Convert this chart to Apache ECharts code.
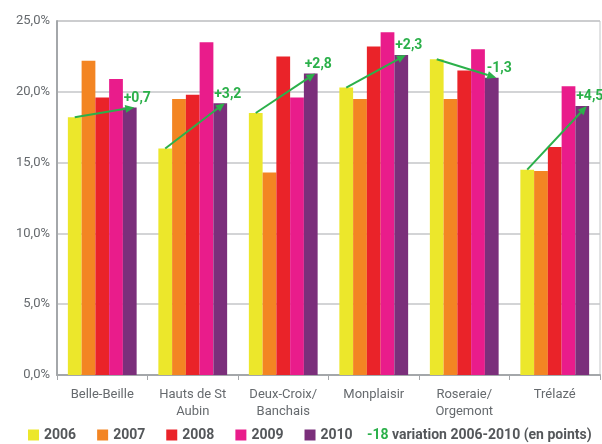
<!DOCTYPE html>
<html>
<head>
<meta charset="utf-8">
<script src="https://cdn.jsdelivr.net/npm/echarts@6/dist/echarts.min.js"></script>
<style>
  html, body { margin: 0; padding: 0; background: #fff; }
  #chart { width: 602px; height: 444px; }
</style>
</head>
<body>
<div id="chart"></div>
<script>
// Quartiers
const categories = ['Belle-Beille', 'Hauts de St\nAubin', 'Deux-Croix/\nBanchais', 'Monplaisir', 'Roseraie/\nOrgemont', 'Trélazé'];
const years = ['2006', '2007', '2008', '2009', '2010'];

// Taux (%) par année
const v2006 = [18.2, 16.0, 18.5, 20.3, 22.3, 14.5];
const v2007 = [22.2, 19.5, 14.3, 19.5, 19.5, 14.4];
const v2008 = [19.6, 19.8, 22.5, 23.2, 21.5, 16.1];
const v2009 = [20.9, 23.5, 19.6, 24.2, 23.0, 20.4];
const v2010 = [18.9, 19.2, 21.3, 22.6, 21.0, 19.0];

// Variation 2006-2010 (en points)
const variation = [0.7, 3.2, 2.8, 2.3, -1.3, 4.5];

const yTicks = [0, 5, 10, 15, 20, 25];

const colors = ['#ece72b', '#f38523', '#ea2329', '#e91c8b', '#7b2f7b'];
const green = '#2bb04a';
const textGray = '#666a6e';
const FONT = 'Roboto';
const CAT_GAP = 0.24;

const seriesValues = [v2006, v2007, v2008, v2009, v2010];

function fmtSigned(d) {
  return (d > 0 ? '+' : d < 0 ? '-' : '') + Math.abs(d).toFixed(1).replace('.', ',');
}

const barSeries = years.map((y, i) => ({
  name: y,
  type: 'bar',
  data: seriesValues[i],
  barGap: '0%',
  barCategoryGap: (CAT_GAP * 100) + '%',
  itemStyle: { color: colors[i] },
  emphasis: { disabled: true },
  z: 2
}));

// Flèche 2006 -> 2010 avec la variation
const arrowData = categories.map((c, i) => [i, v2006[i], v2010[i], variation[i]]);

const arrowSeries = {
  name: 'variation',
  type: 'custom',
  data: arrowData,
  z: 5,
  silent: true,
  renderItem: function (params, api) {
    const idx = api.value(0);
    const band = api.size([1, 0])[0];
    const groupW = band * (1 - CAT_GAP);
    const barW = groupW / years.length;
    const pStart = api.coord([idx, api.value(1)]);
    const pEnd = api.coord([idx, api.value(2)]);
    const x0 = pStart[0] - groupW / 2 + barW / 2;
    const y0 = pStart[1];
    const x1 = pEnd[0] + groupW / 2 - barW / 2 + barW * 0.33;
    const y1 = pEnd[1];
    const ang = Math.atan2(y1 - y0, x1 - x0);
    const headL = 9, headW = 4;
    const bx = x1 - headL * Math.cos(ang), by = y1 - headL * Math.sin(ang);
    const nx = -Math.sin(ang), ny = Math.cos(ang);
    return {
      type: 'group',
      children: [
        {
          type: 'line',
          shape: { x1: x0, y1: y0, x2: bx, y2: by },
          style: { stroke: green, lineWidth: 2 }
        },
        {
          type: 'polygon',
          shape: { points: [[x1, y1], [bx + nx * headW, by + ny * headW], [bx - nx * headW, by - ny * headW]] },
          style: { fill: green }
        },
        {
          type: 'text',
          x: x1 + 3,
          y: y1 - 9,
          style: {
            text: fmtSigned(api.value(3)),
            fill: green,
            font: 'bold 14px ' + FONT,
            align: 'center',
            verticalAlign: 'middle'
          }
        }
      ]
    };
  }
};

const chart = echarts.init(document.getElementById('chart'), null, { renderer: 'canvas' });
chart.setOption({
  animation: false,
  backgroundColor: '#ffffff',
  textStyle: { fontFamily: FONT },
  grid: {
    left: 57, right: 2, top: 21, bottom: 69,
    show: true, borderColor: '#c4c6c8', borderWidth: 1, backgroundColor: 'transparent'
  },
  legend: {
    data: years,
    left: 28,
    top: 428,
    padding: 0,
    itemWidth: 11,
    itemHeight: 11,
    itemGap: 21,
    icon: 'rect',
    selectedMode: false,
    textStyle: { color: '#54575a', fontWeight: 'bold', fontSize: 14, fontFamily: FONT }
  },
  xAxis: {
    type: 'category',
    data: categories,
    axisLine: { lineStyle: { color: '#a4a7aa', width: 2 } },
    axisTick: { show: true, length: 5, lineStyle: { color: '#a4a7aa', width: 1 } },
    axisLabel: { color: textGray, fontSize: 13, lineHeight: 17, margin: 11, fontFamily: FONT, interval: 0 }
  },
  yAxis: {
    type: 'value',
    min: yTicks[0],
    max: yTicks[yTicks.length - 1],
    interval: yTicks[1] - yTicks[0],
    axisLine: { show: true, lineStyle: { color: '#a4a7aa', width: 2 } },
    axisTick: { show: false },
    splitLine: { lineStyle: { color: '#c4c6c8', width: 1.5 } },
    axisLabel: {
      color: textGray, fontSize: 13, margin: 7, fontFamily: FONT,
      formatter: v => v.toFixed(1).replace('.', ',') + '%'
    }
  },
  graphic: [
    {
      type: 'text',
      left: 367,
      top: 428,
      style: {
        text: '{g|-18} {t|variation 2006-2010 (en points)}',
        rich: {
          g: { fill: green, font: 'bold 14px ' + FONT },
          t: { fill: '#54575a', font: 'bold 14px ' + FONT }
        }
      }
    }
  ],
  series: barSeries.concat([arrowSeries])
});
</script>
</body>
</html>
